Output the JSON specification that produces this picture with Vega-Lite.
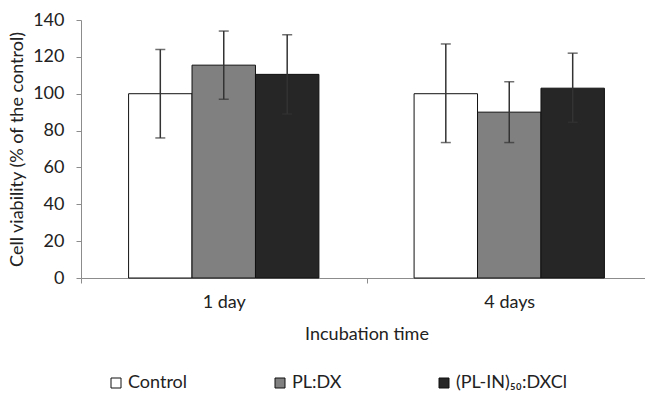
{
  "$schema": "https://vega.github.io/schema/vega-lite/v6.json",
  "width": 564,
  "height": 258,
  "autosize": {"type": "none"},
  "padding": {"left": 81, "top": 20, "right": 0, "bottom": 115},
  "background": "white",
  "config": {
    "font": "Lato",
    "view": {"stroke": null},
    "axis": {
      "grid": false,
      "domainColor": "#8c8c8c",
      "tickColor": "#8c8c8c",
      "labelColor": "#222222",
      "titleColor": "#222222",
      "labelFontSize": 18,
      "titleFontSize": 18,
      "titleFontWeight": "normal",
      "tickSize": 5,
      "labelOverlap": false
    }
  },
  "data": {
    "values": [
      {"time": "1 day", "group": "Control", "value": 100, "low": 76, "high": 124},
      {"time": "1 day", "group": "PL:DX", "value": 115.5, "low": 97, "high": 134},
      {"time": "1 day", "group": "(PL-IN)₅₀:DXCl", "value": 110.5, "low": 89, "high": 132},
      {"time": "4 days", "group": "Control", "value": 100, "low": 73.5, "high": 127},
      {"time": "4 days", "group": "PL:DX", "value": 90, "low": 73.5, "high": 106.5},
      {"time": "4 days", "group": "(PL-IN)₅₀:DXCl", "value": 103, "low": 84.5, "high": 122}
    ]
  },
  "encoding": {
    "x": {
      "field": "time",
      "type": "nominal",
      "sort": ["1 day", "4 days"],
      "scale": {"range": [0, 571], "paddingInner": 0, "paddingOuter": 0},
      "axis": {
        "title": "Incubation time",
        "labelAngle": 0,
        "tickBand": "extent",
        "labelPadding": 10,
        "titlePadding": 14
      }
    },
    "xOffset": {
      "field": "group",
      "type": "nominal",
      "sort": ["Control", "PL:DX", "(PL-IN)₅₀:DXCl"],
      "scale": {"paddingInner": 0, "paddingOuter": 0.75}
    }
  },
  "layer": [
    {
      "mark": {"type": "bar", "stroke": "#111111", "strokeWidth": 1},
      "encoding": {
        "y": {
          "field": "value",
          "type": "quantitative",
          "scale": {"domain": [0, 140]},
          "axis": {
            "title": "Cell viability (% of the control)",
            "values": [0, 20, 40, 60, 80, 100, 120, 140],
            "tickCount": 8,
            "labelOverlap": false,
            "labelPadding": 12,
            "titlePadding": 6
          }
        },
        "fill": {
          "field": "group",
          "type": "nominal",
          "sort": ["Control", "PL:DX", "(PL-IN)₅₀:DXCl"],
          "scale": {"domain": ["Control", "PL:DX", "(PL-IN)₅₀:DXCl"], "range": ["#ffffff", "#808080", "#262626"]},
          "legend": {
            "title": null,
            "orient": "none",
            "legendX": 26,
            "legendY": 354,
            "direction": "horizontal",
            "columns": 3,
            "gridAlign": "all",
            "columnPadding": 32,
            "padding": 0,
            "symbolType": "square",
            "symbolSize": 100,
            "symbolStrokeColor": "#111111",
            "symbolStrokeWidth": 1,
            "symbolOpacity": 1,
            "labelFontSize": 18,
            "labelColor": "#222222",
            "labelOffset": 3,
            "labelLimit": 300,
            "labelExpr": "datum.label == '(PL-IN)₅₀:DXCl' ? '\u00a0\u00a0' + datum.label : datum.label"
          }
        }
      }
    },
    {
      "mark": {"type": "rule", "color": "#333333", "strokeWidth": 1.5},
      "encoding": {
        "y": {
          "field": "low",
          "type": "quantitative",
          "axis": {
            "title": "Cell viability (% of the control)",
            "values": [0, 20, 40, 60, 80, 100, 120, 140],
            "tickCount": 8,
            "labelOverlap": false,
            "labelPadding": 12,
            "titlePadding": 6
          }
        },
        "y2": {"field": "high"}
      }
    },
    {
      "mark": {"type": "tick", "color": "#333333", "size": 10, "thickness": 1.5},
      "encoding": {
        "y": {
          "field": "low",
          "type": "quantitative",
          "axis": {
            "title": "Cell viability (% of the control)",
            "values": [0, 20, 40, 60, 80, 100, 120, 140],
            "tickCount": 8,
            "labelOverlap": false,
            "labelPadding": 12,
            "titlePadding": 6
          }
        }
      }
    },
    {
      "mark": {"type": "tick", "color": "#333333", "size": 10, "thickness": 1.5},
      "encoding": {
        "y": {
          "field": "high",
          "type": "quantitative",
          "axis": {
            "title": "Cell viability (% of the control)",
            "values": [0, 20, 40, 60, 80, 100, 120, 140],
            "tickCount": 8,
            "labelOverlap": false,
            "labelPadding": 12,
            "titlePadding": 6
          }
        }
      }
    }
  ]
}
